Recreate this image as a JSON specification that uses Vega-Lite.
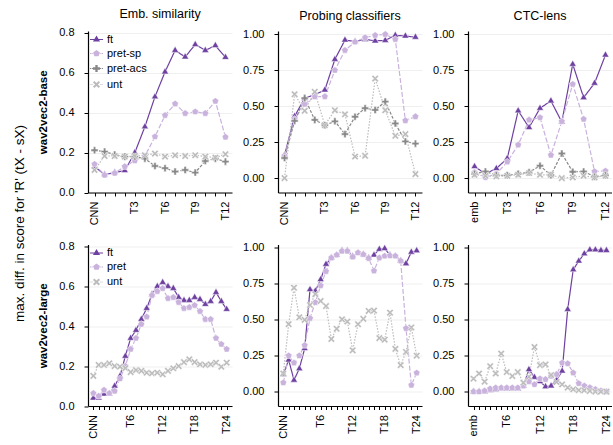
{
"$schema":"https://vega.github.io/schema/vega-lite/v6.json",
"padding":{"left":13,"top":8,"right":0,"bottom":0},
"title":{"text":"max. diff. in score for 'R' (tX - sX)","orient":"left","anchor":"middle","fontSize":13.5,"fontWeight":"normal","offset":11},
"datasets":{
"eb":[
{"l":"CNN","s":"ft","v":0.13},{"l":"emb","s":"ft","v":0.09},{"l":"T1","s":"ft","v":0.10},{"l":"T2","s":"ft","v":0.11},{"l":"T3","s":"ft","v":0.20},{"l":"T4","s":"ft","v":0.33},{"l":"T5","s":"ft","v":0.48},{"l":"T6","s":"ft","v":0.605},{"l":"T7","s":"ft","v":0.713},{"l":"T8","s":"ft","v":0.68},{"l":"T9","s":"ft","v":0.742},{"l":"T10","s":"ft","v":0.713},{"l":"T11","s":"ft","v":0.737},{"l":"T12","s":"ft","v":0.678},
{"l":"CNN","s":"pret-sp","v":0.142},{"l":"emb","s":"pret-sp","v":0.087},{"l":"T1","s":"pret-sp","v":0.097},{"l":"T2","s":"pret-sp","v":0.13},{"l":"T3","s":"pret-sp","v":0.16},{"l":"T4","s":"pret-sp","v":0.183},{"l":"T5","s":"pret-sp","v":0.28},{"l":"T6","s":"pret-sp","v":0.387},{"l":"T7","s":"pret-sp","v":0.445},{"l":"T8","s":"pret-sp","v":0.397},{"l":"T9","s":"pret-sp","v":0.405},{"l":"T10","s":"pret-sp","v":0.397},{"l":"T11","s":"pret-sp","v":0.458},{"l":"T12","s":"pret-sp","v":0.278},
{"l":"CNN","s":"pret-acs","v":0.212},{"l":"emb","s":"pret-acs","v":0.205},{"l":"T1","s":"pret-acs","v":0.19},{"l":"T2","s":"pret-acs","v":0.18},{"l":"T3","s":"pret-acs","v":0.18},{"l":"T4","s":"pret-acs","v":0.17},{"l":"T5","s":"pret-acs","v":0.133},{"l":"T6","s":"pret-acs","v":0.122},{"l":"T7","s":"pret-acs","v":0.105},{"l":"T8","s":"pret-acs","v":0.113},{"l":"T9","s":"pret-acs","v":0.1},{"l":"T10","s":"pret-acs","v":0.158},{"l":"T11","s":"pret-acs","v":0.17},{"l":"T12","s":"pret-acs","v":0.155},
{"l":"CNN","s":"unt","v":0.113},{"l":"emb","s":"unt","v":0.183},{"l":"T1","s":"unt","v":0.183},{"l":"T2","s":"unt","v":0.18},{"l":"T3","s":"unt","v":0.183},{"l":"T4","s":"unt","v":0.187},{"l":"T5","s":"unt","v":0.195},{"l":"T6","s":"unt","v":0.18},{"l":"T7","s":"unt","v":0.187},{"l":"T8","s":"unt","v":0.183},{"l":"T9","s":"unt","v":0.187},{"l":"T10","s":"unt","v":0.18},{"l":"T11","s":"unt","v":0.175},{"l":"T12","s":"unt","v":0.192}
],
"pb":[
{"l":"CNN","s":"ft","v":0.16},{"l":"emb","s":"ft","v":0.43},{"l":"T1","s":"ft","v":0.556},{"l":"T2","s":"ft","v":0.58},{"l":"T3","s":"ft","v":0.613},{"l":"T4","s":"ft","v":0.826},{"l":"T5","s":"ft","v":0.96},{"l":"T6","s":"ft","v":0.95},{"l":"T7","s":"ft","v":0.965},{"l":"T8","s":"ft","v":0.954},{"l":"T9","s":"ft","v":0.958},{"l":"T10","s":"ft","v":0.993},{"l":"T11","s":"ft","v":0.988},{"l":"T12","s":"ft","v":0.98},
{"l":"CNN","s":"pret-sp","v":0.155},{"l":"emb","s":"pret-sp","v":0.41},{"l":"T1","s":"pret-sp","v":0.514},{"l":"T2","s":"pret-sp","v":0.567},{"l":"T3","s":"pret-sp","v":0.567},{"l":"T4","s":"pret-sp","v":0.75},{"l":"T5","s":"pret-sp","v":0.889},{"l":"T6","s":"pret-sp","v":0.947},{"l":"T7","s":"pret-sp","v":0.977},{"l":"T8","s":"pret-sp","v":0.993},{"l":"T9","s":"pret-sp","v":1.0},{"l":"T10","s":"pret-sp","v":0.965},{"l":"T11","s":"pret-sp","v":0.4},{"l":"T12","s":"pret-sp","v":0.428},
{"l":"CNN","s":"pret-acs","v":0.14},{"l":"emb","s":"pret-acs","v":0.398},{"l":"T1","s":"pret-acs","v":0.556},{"l":"T2","s":"pret-acs","v":0.405},{"l":"T3","s":"pret-acs","v":0.368},{"l":"T4","s":"pret-acs","v":0.395},{"l":"T5","s":"pret-acs","v":0.306},{"l":"T6","s":"pret-acs","v":0.427},{"l":"T7","s":"pret-acs","v":0.486},{"l":"T8","s":"pret-acs","v":0.474},{"l":"T9","s":"pret-acs","v":0.532},{"l":"T10","s":"pret-acs","v":0.38},{"l":"T11","s":"pret-acs","v":0.255},{"l":"T12","s":"pret-acs","v":0.24},
{"l":"CNN","s":"unt","v":0.0},{"l":"emb","s":"unt","v":0.583},{"l":"T1","s":"unt","v":0.468},{"l":"T2","s":"unt","v":0.6},{"l":"T3","s":"unt","v":0.368},{"l":"T4","s":"unt","v":0.472},{"l":"T5","s":"unt","v":0.444},{"l":"T6","s":"unt","v":0.15},{"l":"T7","s":"unt","v":0.155},{"l":"T8","s":"unt","v":0.692},{"l":"T9","s":"unt","v":0.472},{"l":"T10","s":"unt","v":0.294},{"l":"T11","s":"unt","v":0.306},{"l":"T12","s":"unt","v":0.028}
],
"cb":[
{"l":"emb","s":"ft","v":0.081},{"l":"T1","s":"ft","v":0.03},{"l":"T2","s":"ft","v":0.067},{"l":"T3","s":"ft","v":0.137},{"l":"T4","s":"ft","v":0.468},{"l":"T5","s":"ft","v":0.352},{"l":"T6","s":"ft","v":0.486},{"l":"T7","s":"ft","v":0.537},{"l":"T8","s":"ft","v":0.39},{"l":"T9","s":"ft","v":0.792},{"l":"T10","s":"ft","v":0.56},{"l":"T11","s":"ft","v":0.66},{"l":"T12","s":"ft","v":0.856},
{"l":"emb","s":"pret-sp","v":0.04},{"l":"T1","s":"pret-sp","v":0.005},{"l":"T2","s":"pret-sp","v":0.03},{"l":"T3","s":"pret-sp","v":0.113},{"l":"T4","s":"pret-sp","v":0.231},{"l":"T5","s":"pret-sp","v":0.405},{"l":"T6","s":"pret-sp","v":0.421},{"l":"T7","s":"pret-sp","v":0.16},{"l":"T8","s":"pret-sp","v":0.394},{"l":"T9","s":"pret-sp","v":0.653},{"l":"T10","s":"pret-sp","v":0.41},{"l":"T11","s":"pret-sp","v":0.046},{"l":"T12","s":"pret-sp","v":0.05},
{"l":"emb","s":"pret-acs","v":0.03},{"l":"T1","s":"pret-acs","v":0.046},{"l":"T2","s":"pret-acs","v":0.02},{"l":"T3","s":"pret-acs","v":0.02},{"l":"T4","s":"pret-acs","v":0.03},{"l":"T5","s":"pret-acs","v":0.04},{"l":"T6","s":"pret-acs","v":0.086},{"l":"T7","s":"pret-acs","v":0.02},{"l":"T8","s":"pret-acs","v":0.171},{"l":"T9","s":"pret-acs","v":0.044},{"l":"T10","s":"pret-acs","v":0.046},{"l":"T11","s":"pret-acs","v":0.01},{"l":"T12","s":"pret-acs","v":0.02},
{"l":"emb","s":"unt","v":0.023},{"l":"T1","s":"unt","v":0.016},{"l":"T2","s":"unt","v":0.012},{"l":"T3","s":"unt","v":0.016},{"l":"T4","s":"unt","v":0.023},{"l":"T5","s":"unt","v":0.035},{"l":"T6","s":"unt","v":0.023},{"l":"T7","s":"unt","v":0.023},{"l":"T8","s":"unt","v":0.0},{"l":"T9","s":"unt","v":0.005},{"l":"T10","s":"unt","v":0.016},{"l":"T11","s":"unt","v":0.005},{"l":"T12","s":"unt","v":0.016}
],
"el":[
{"l":"CNN","s":"ft","v":0.04},{"l":"emb","s":"ft","v":0.04},{"l":"T1","s":"ft","v":0.06},{"l":"T2","s":"ft","v":0.06},{"l":"T3","s":"ft","v":0.10},{"l":"T4","s":"ft","v":0.15},{"l":"T5","s":"ft","v":0.25},{"l":"T6","s":"ft","v":0.34},{"l":"T7","s":"ft","v":0.38},{"l":"T8","s":"ft","v":0.435},{"l":"T9","s":"ft","v":0.49},{"l":"T10","s":"ft","v":0.56},{"l":"T11","s":"ft","v":0.60},{"l":"T12","s":"ft","v":0.62},{"l":"T13","s":"ft","v":0.60},{"l":"T14","s":"ft","v":0.59},{"l":"T15","s":"ft","v":0.545},{"l":"T16","s":"ft","v":0.53},{"l":"T17","s":"ft","v":0.53},{"l":"T18","s":"ft","v":0.545},{"l":"T19","s":"ft","v":0.535},{"l":"T20","s":"ft","v":0.51},{"l":"T21","s":"ft","v":0.525},{"l":"T22","s":"ft","v":0.57},{"l":"T23","s":"ft","v":0.525},{"l":"T24","s":"ft","v":0.485},
{"l":"CNN","s":"pret","v":0.064},{"l":"emb","s":"pret","v":0.05},{"l":"T1","s":"pret","v":0.08},{"l":"T2","s":"pret","v":0.064},{"l":"T3","s":"pret","v":0.075},{"l":"T4","s":"pret","v":0.137},{"l":"T5","s":"pret","v":0.2},{"l":"T6","s":"pret","v":0.285},{"l":"T7","s":"pret","v":0.34},{"l":"T8","s":"pret","v":0.41},{"l":"T9","s":"pret","v":0.447},{"l":"T10","s":"pret","v":0.555},{"l":"T11","s":"pret","v":0.575},{"l":"T12","s":"pret","v":0.59},{"l":"T13","s":"pret","v":0.54},{"l":"T14","s":"pret","v":0.545},{"l":"T15","s":"pret","v":0.52},{"l":"T16","s":"pret","v":0.49},{"l":"T17","s":"pret","v":0.495},{"l":"T18","s":"pret","v":0.505},{"l":"T19","s":"pret","v":0.475},{"l":"T20","s":"pret","v":0.435},{"l":"T21","s":"pret","v":0.435},{"l":"T22","s":"pret","v":0.34},{"l":"T23","s":"pret","v":0.31},{"l":"T24","s":"pret","v":0.285},
{"l":"CNN","s":"unt","v":0.151},{"l":"emb","s":"unt","v":0.206},{"l":"T1","s":"unt","v":0.206},{"l":"T2","s":"unt","v":0.214},{"l":"T3","s":"unt","v":0.2},{"l":"T4","s":"unt","v":0.197},{"l":"T5","s":"unt","v":0.19},{"l":"T6","s":"unt","v":0.17},{"l":"T7","s":"unt","v":0.18},{"l":"T8","s":"unt","v":0.176},{"l":"T9","s":"unt","v":0.167},{"l":"T10","s":"unt","v":0.164},{"l":"T11","s":"unt","v":0.167},{"l":"T12","s":"unt","v":0.159},{"l":"T13","s":"unt","v":0.176},{"l":"T14","s":"unt","v":0.189},{"l":"T15","s":"unt","v":0.2},{"l":"T16","s":"unt","v":0.22},{"l":"T17","s":"unt","v":0.234},{"l":"T18","s":"unt","v":0.22},{"l":"T19","s":"unt","v":0.209},{"l":"T20","s":"unt","v":0.206},{"l":"T21","s":"unt","v":0.209},{"l":"T22","s":"unt","v":0.217},{"l":"T23","s":"unt","v":0.197},{"l":"T24","s":"unt","v":0.217}
],
"pl":[
{"l":"CNN","s":"ft","v":0.12},{"l":"emb","s":"ft","v":0.22},{"l":"T1","s":"ft","v":0.08},{"l":"T2","s":"ft","v":0.16},{"l":"T3","s":"ft","v":0.30},{"l":"T4","s":"ft","v":0.71},{"l":"T5","s":"ft","v":0.70},{"l":"T6","s":"ft","v":0.78},{"l":"T7","s":"ft","v":0.886},{"l":"T8","s":"ft","v":0.93},{"l":"T9","s":"ft","v":0.95},{"l":"T10","s":"ft","v":0.98},{"l":"T11","s":"ft","v":0.98},{"l":"T12","s":"ft","v":0.94},{"l":"T13","s":"ft","v":0.966},{"l":"T14","s":"ft","v":0.954},{"l":"T15","s":"ft","v":0.93},{"l":"T16","s":"ft","v":0.95},{"l":"T17","s":"ft","v":0.99},{"l":"T18","s":"ft","v":0.995},{"l":"T19","s":"ft","v":0.95},{"l":"T20","s":"ft","v":0.943},{"l":"T21","s":"ft","v":0.91},{"l":"T22","s":"ft","v":0.89},{"l":"T23","s":"ft","v":0.97},{"l":"T24","s":"ft","v":0.98},
{"l":"CNN","s":"pret","v":0.062},{"l":"emb","s":"pret","v":0.25},{"l":"T1","s":"pret","v":0.2},{"l":"T2","s":"pret","v":0.25},{"l":"T3","s":"pret","v":0.322},{"l":"T4","s":"pret","v":0.51},{"l":"T5","s":"pret","v":0.62},{"l":"T6","s":"pret","v":0.737},{"l":"T7","s":"pret","v":0.836},{"l":"T8","s":"pret","v":0.93},{"l":"T9","s":"pret","v":0.95},{"l":"T10","s":"pret","v":0.977},{"l":"T11","s":"pret","v":0.977},{"l":"T12","s":"pret","v":0.936},{"l":"T13","s":"pret","v":0.966},{"l":"T14","s":"pret","v":0.954},{"l":"T15","s":"pret","v":0.927},{"l":"T16","s":"pret","v":0.84},{"l":"T17","s":"pret","v":0.93},{"l":"T18","s":"pret","v":0.943},{"l":"T19","s":"pret","v":0.945},{"l":"T20","s":"pret","v":0.943},{"l":"T21","s":"pret","v":0.909},{"l":"T22","s":"pret","v":0.44},{"l":"T23","s":"pret","v":0.045},{"l":"T24","s":"pret","v":0.13},
{"l":"CNN","s":"unt","v":0.126},{"l":"emb","s":"unt","v":0.469},{"l":"T1","s":"unt","v":0.722},{"l":"T2","s":"unt","v":0.517},{"l":"T3","s":"unt","v":0.499},{"l":"T4","s":"unt","v":0.602},{"l":"T5","s":"unt","v":0.678},{"l":"T6","s":"unt","v":0.63},{"l":"T7","s":"unt","v":0.595},{"l":"T8","s":"unt","v":0.366},{"l":"T9","s":"unt","v":0.437},{"l":"T10","s":"unt","v":0.503},{"l":"T11","s":"unt","v":0.487},{"l":"T12","s":"unt","v":0.287},{"l":"T13","s":"unt","v":0.469},{"l":"T14","s":"unt","v":0.506},{"l":"T15","s":"unt","v":0.561},{"l":"T16","s":"unt","v":0.563},{"l":"T17","s":"unt","v":0.372},{"l":"T18","s":"unt","v":0.361},{"l":"T19","s":"unt","v":0.549},{"l":"T20","s":"unt","v":0.297},{"l":"T21","s":"unt","v":0.184},{"l":"T22","s":"unt","v":0.276},{"l":"T23","s":"unt","v":0.446},{"l":"T24","s":"unt","v":0.25}
],
"cl":[
{"l":"emb","s":"ft","v":0.0},{"l":"T1","s":"ft","v":0.0},{"l":"T2","s":"ft","v":0.0},{"l":"T3","s":"ft","v":0.01},{"l":"T4","s":"ft","v":0.015},{"l":"T5","s":"ft","v":0.02},{"l":"T6","s":"ft","v":0.02},{"l":"T7","s":"ft","v":0.02},{"l":"T8","s":"ft","v":0.02},{"l":"T9","s":"ft","v":0.04},{"l":"T10","s":"ft","v":0.154},{"l":"T11","s":"ft","v":0.1},{"l":"T12","s":"ft","v":0.07},{"l":"T13","s":"ft","v":0.035},{"l":"T14","s":"ft","v":0.04},{"l":"T15","s":"ft","v":0.08},{"l":"T16","s":"ft","v":0.143},{"l":"T17","s":"ft","v":0.572},{"l":"T18","s":"ft","v":0.848},{"l":"T19","s":"ft","v":0.908},{"l":"T20","s":"ft","v":0.959},{"l":"T21","s":"ft","v":0.986},{"l":"T22","s":"ft","v":0.986},{"l":"T23","s":"ft","v":0.982},{"l":"T24","s":"ft","v":0.982},
{"l":"emb","s":"pret","v":0.0},{"l":"T1","s":"pret","v":0.0},{"l":"T2","s":"pret","v":0.005},{"l":"T3","s":"pret","v":0.02},{"l":"T4","s":"pret","v":0.027},{"l":"T5","s":"pret","v":0.027},{"l":"T6","s":"pret","v":0.027},{"l":"T7","s":"pret","v":0.027},{"l":"T8","s":"pret","v":0.027},{"l":"T9","s":"pret","v":0.04},{"l":"T10","s":"pret","v":0.07},{"l":"T11","s":"pret","v":0.05},{"l":"T12","s":"pret","v":0.09},{"l":"T13","s":"pret","v":0.085},{"l":"T14","s":"pret","v":0.108},{"l":"T15","s":"pret","v":0.12},{"l":"T16","s":"pret","v":0.2},{"l":"T17","s":"pret","v":0.195},{"l":"T18","s":"pret","v":0.131},{"l":"T19","s":"pret","v":0.057},{"l":"T20","s":"pret","v":0.04},{"l":"T21","s":"pret","v":0.028},{"l":"T22","s":"pret","v":0.016},{"l":"T23","s":"pret","v":0.005},{"l":"T24","s":"pret","v":0.0},
{"l":"emb","s":"unt","v":0.09},{"l":"T1","s":"unt","v":0.126},{"l":"T2","s":"unt","v":0.069},{"l":"T3","s":"unt","v":0.177},{"l":"T4","s":"unt","v":0.126},{"l":"T5","s":"unt","v":0.264},{"l":"T6","s":"unt","v":0.136},{"l":"T7","s":"unt","v":0.108},{"l":"T8","s":"unt","v":0.136},{"l":"T9","s":"unt","v":0.062},{"l":"T10","s":"unt","v":0.103},{"l":"T11","s":"unt","v":0.31},{"l":"T12","s":"unt","v":0.184},{"l":"T13","s":"unt","v":0.189},{"l":"T14","s":"unt","v":0.115},{"l":"T15","s":"unt","v":0.067},{"l":"T16","s":"unt","v":0.05},{"l":"T17","s":"unt","v":0.028},{"l":"T18","s":"unt","v":0.016},{"l":"T19","s":"unt","v":0.01},{"l":"T20","s":"unt","v":0.009},{"l":"T21","s":"unt","v":0.005},{"l":"T22","s":"unt","v":0.0},{"l":"T23","s":"unt","v":0.0},{"l":"T24","s":"unt","v":0.0}
]
},
"columns":3,
"spacing":{"row":51.5,"column":46},
"bounds":"flush",
"concat":[
{
"width":144,"height":161.5,"title":"Emb. similarity","data":{"name":"eb"},
"encoding":{
"x":{"field":"l","type":"ordinal","scale":{"type":"point","padding":0.65,"domain":["CNN","emb","T1","T2","T3","T4","T5","T6","T7","T8","T9","T10","T11","T12"]},"axis":{"labelExpr":"indexof(['CNN','T3','T6','T9','T12'], datum.value) >= 0 ? datum.value : ''"}},
"y":{"field":"v","type":"quantitative","scale":{"domain":[0,0.81],"nice":false,"zero":false},"axis":{"values":[0,0.2,0.4,0.6,0.8],"format":".1f","title":"wav2vec2-base"}},
"color":{"field":"s","type":"nominal","scale":{"domain":["ft","pret-sp","pret-acs","unt"],"range":["#6e40a0","#c9b2dc","#888888","#bcbcbc"]},"legend":null},
"order":{"value":null}
},
"resolve":{"scale":{"shape":"independent","fill":"independent"}},
"layer":[
{"mark":{"type":"line","strokeWidth":1.2},"encoding":{"strokeDash":{"field":"s","type":"nominal","scale":{"domain":["ft","pret-sp","pret-acs","unt"],"range":[[1,0],[5,2],[3,1.5],[1.5,1.5]]},"legend":null}}},
{"mark":{"type":"point","filled":true,"opacity":1,"size":50,"stroke":"white","strokeWidth":0.5},"encoding":{"shape":{"field":"s","type":"nominal","scale":{"domain":["ft","pret-sp","pret-acs","unt"],"range":["M0,-1.15L1,0.58L-1,0.58Z","M0,-1L0.951,-0.309L0.588,0.809L-0.588,0.809L-0.951,-0.309Z","M-0.33,-1L0.33,-1L0.33,-0.33L1,-0.33L1,0.33L0.33,0.33L0.33,1L-0.33,1L-0.33,0.33L-1,0.33L-1,-0.33L-0.33,-0.33Z","M-1,-0.6L-0.6,-1L0,-0.4L0.6,-1L1,-0.6L0.4,0L1,0.6L0.6,1L0,0.4L-0.6,1L-1,0.6L-0.4,0Z"]},"legend":null}}},
{"transform":[{"filter":"false"}],"mark":{"type":"point","filled":true,"opacity":1,"strokeWidth":0},"encoding":{
"shape":{"field":"s","type":"nominal","scale":{"domain":["ft","pret-sp","pret-acs","unt"],"range":[
"M-1.85,-0.17L1.85,-0.17L1.85,0.17L-1.85,0.17ZM0,-1.15L1,0.58L-1,0.58Z",
"M-1.85,-0.17L-1.4,-0.17L-1.4,0.17L-1.85,0.17ZM-1.2,-0.17L-0.95,-0.17L-0.95,0.17L-1.2,0.17ZM0.95,-0.17L1.2,-0.17L1.2,0.17L0.95,0.17ZM1.4,-0.17L1.85,-0.17L1.85,0.17L1.4,0.17ZM0,-1L0.951,-0.309L0.588,0.809L-0.588,0.809L-0.951,-0.309Z",
"M-1.85,-0.17L-1.5,-0.17L-1.5,0.17L-1.85,0.17ZM-1.3,-0.17L-1.0,-0.17L-1.0,0.17L-1.3,0.17ZM1.0,-0.17L1.3,-0.17L1.3,0.17L1.0,0.17ZM1.5,-0.17L1.85,-0.17L1.85,0.17L1.5,0.17ZM-0.33,-1L0.33,-1L0.33,-0.33L1,-0.33L1,0.33L0.33,0.33L0.33,1L-0.33,1L-0.33,0.33L-1,0.33L-1,-0.33L-0.33,-0.33Z",
"M-1.85,-0.17L-1.7,-0.17L-1.7,0.17L-1.85,0.17ZM-1.5,-0.17L-1.35,-0.17L-1.35,0.17L-1.5,0.17ZM-1.15,-0.17L-1.0,-0.17L-1.0,0.17L-1.15,0.17ZM1.0,-0.17L1.15,-0.17L1.15,0.17L1.0,0.17ZM1.35,-0.17L1.5,-0.17L1.5,0.17L1.35,0.17ZM1.7,-0.17L1.85,-0.17L1.85,0.17L1.7,0.17ZM-1,-0.6L-0.6,-1L0,-0.4L0.6,-1L1,-0.6L0.4,0L1,0.6L0.6,1L0,0.4L-0.6,1L-1,0.6L-0.4,0Z"]},"legend":{"title":null,"orient":"top-left"}},
"fill":{"field":"s","type":"nominal","scale":{"domain":["ft","pret-sp","pret-acs","unt"],"range":["#6e40a0","#c9b2dc","#888888","#bcbcbc"]},"legend":{"title":null,"orient":"top-left"}}
}}
]
},
{
"width":144,"height":161.5,"title":"Probing classifiers","data":{"name":"pb"},
"encoding":{
"x":{"field":"l","type":"ordinal","scale":{"type":"point","padding":0.65,"domain":["CNN","emb","T1","T2","T3","T4","T5","T6","T7","T8","T9","T10","T11","T12"]},"axis":{"labelExpr":"indexof(['CNN','T3','T6','T9','T12'], datum.value) >= 0 ? datum.value : ''"}},
"y":{"field":"v","type":"quantitative","scale":{"domain":[-0.1,1.023],"nice":false,"zero":false},"axis":{"values":[0,0.25,0.5,0.75,1],"format":".2f","title":null}},
"color":{"field":"s","type":"nominal","scale":{"domain":["ft","pret-sp","pret-acs","unt"],"range":["#6e40a0","#c9b2dc","#888888","#bcbcbc"]},"legend":null},
"order":{"value":null}
},
"layer":[
{"mark":{"type":"line","strokeWidth":1.2},"encoding":{"strokeDash":{"field":"s","type":"nominal","scale":{"domain":["ft","pret-sp","pret-acs","unt"],"range":[[1,0],[5,2],[3,1.5],[1.5,1.5]]},"legend":null}}},
{"mark":{"type":"point","filled":true,"opacity":1,"size":50,"stroke":"white","strokeWidth":0.5},"encoding":{"shape":{"field":"s","type":"nominal","scale":{"domain":["ft","pret-sp","pret-acs","unt"],"range":["M0,-1.15L1,0.58L-1,0.58Z","M0,-1L0.951,-0.309L0.588,0.809L-0.588,0.809L-0.951,-0.309Z","M-0.33,-1L0.33,-1L0.33,-0.33L1,-0.33L1,0.33L0.33,0.33L0.33,1L-0.33,1L-0.33,0.33L-1,0.33L-1,-0.33L-0.33,-0.33Z","M-1,-0.6L-0.6,-1L0,-0.4L0.6,-1L1,-0.6L0.4,0L1,0.6L0.6,1L0,0.4L-0.6,1L-1,0.6L-0.4,0Z"]},"legend":null}}}
]
},
{
"width":144,"height":161.5,"title":"CTC-lens","data":{"name":"cb"},
"encoding":{
"x":{"field":"l","type":"ordinal","scale":{"type":"point","padding":0.6,"domain":["emb","T1","T2","T3","T4","T5","T6","T7","T8","T9","T10","T11","T12"]},"axis":{"labelExpr":"indexof(['emb','T3','T6','T9','T12'], datum.value) >= 0 ? datum.value : ''"}},
"y":{"field":"v","type":"quantitative","scale":{"domain":[-0.1,1.023],"nice":false,"zero":false},"axis":{"values":[0,0.25,0.5,0.75,1],"format":".2f","title":null}},
"color":{"field":"s","type":"nominal","scale":{"domain":["ft","pret-sp","pret-acs","unt"],"range":["#6e40a0","#c9b2dc","#888888","#bcbcbc"]},"legend":null},
"order":{"value":null}
},
"layer":[
{"mark":{"type":"line","strokeWidth":1.2},"encoding":{"strokeDash":{"field":"s","type":"nominal","scale":{"domain":["ft","pret-sp","pret-acs","unt"],"range":[[1,0],[5,2],[3,1.5],[1.5,1.5]]},"legend":null}}},
{"mark":{"type":"point","filled":true,"opacity":1,"size":50,"stroke":"white","strokeWidth":0.5},"encoding":{"shape":{"field":"s","type":"nominal","scale":{"domain":["ft","pret-sp","pret-acs","unt"],"range":["M0,-1.15L1,0.58L-1,0.58Z","M0,-1L0.951,-0.309L0.588,0.809L-0.588,0.809L-0.951,-0.309Z","M-0.33,-1L0.33,-1L0.33,-0.33L1,-0.33L1,0.33L0.33,0.33L0.33,1L-0.33,1L-0.33,0.33L-1,0.33L-1,-0.33L-0.33,-0.33Z","M-1,-0.6L-0.6,-1L0,-0.4L0.6,-1L1,-0.6L0.4,0L1,0.6L0.6,1L0,0.4L-0.6,1L-1,0.6L-0.4,0Z"]},"legend":null}}}
]
},
{
"width":144,"height":161.5,"data":{"name":"el"},
"encoding":{
"x":{"field":"l","type":"ordinal","scale":{"type":"point","padding":1.25,"domain":["CNN","emb","T1","T2","T3","T4","T5","T6","T7","T8","T9","T10","T11","T12","T13","T14","T15","T16","T17","T18","T19","T20","T21","T22","T23","T24"]},"axis":{"labelExpr":"indexof(['CNN','T6','T12','T18','T24'], datum.value) >= 0 ? datum.value : ''"}},
"y":{"field":"v","type":"quantitative","scale":{"domain":[0,0.81],"nice":false,"zero":false},"axis":{"values":[0,0.2,0.4,0.6,0.8],"format":".1f","title":"wav2vec2-large"}},
"color":{"field":"s","type":"nominal","scale":{"domain":["ft","pret","unt"],"range":["#6e40a0","#c9b2dc","#bcbcbc"]},"legend":null},
"order":{"value":null}
},
"resolve":{"scale":{"shape":"independent","fill":"independent"}},
"layer":[
{"mark":{"type":"line","strokeWidth":1.2},"encoding":{"strokeDash":{"field":"s","type":"nominal","scale":{"domain":["ft","pret","unt"],"range":[[1,0],[5,2],[1.5,1.5]]},"legend":null}}},
{"mark":{"type":"point","filled":true,"opacity":1,"size":50,"stroke":"white","strokeWidth":0.5},"encoding":{"shape":{"field":"s","type":"nominal","scale":{"domain":["ft","pret","unt"],"range":["M0,-1.15L1,0.58L-1,0.58Z","M0,-1L0.951,-0.309L0.588,0.809L-0.588,0.809L-0.951,-0.309Z","M-1,-0.6L-0.6,-1L0,-0.4L0.6,-1L1,-0.6L0.4,0L1,0.6L0.6,1L0,0.4L-0.6,1L-1,0.6L-0.4,0Z"]},"legend":null}}},
{"transform":[{"filter":"false"}],"mark":{"type":"point","filled":true,"opacity":1,"strokeWidth":0},"encoding":{
"shape":{"field":"s","type":"nominal","scale":{"domain":["ft","pret","unt"],"range":[
"M-1.85,-0.17L1.85,-0.17L1.85,0.17L-1.85,0.17ZM0,-1.15L1,0.58L-1,0.58Z",
"M-1.85,-0.17L-1.4,-0.17L-1.4,0.17L-1.85,0.17ZM-1.2,-0.17L-0.95,-0.17L-0.95,0.17L-1.2,0.17ZM0.95,-0.17L1.2,-0.17L1.2,0.17L0.95,0.17ZM1.4,-0.17L1.85,-0.17L1.85,0.17L1.4,0.17ZM0,-1L0.951,-0.309L0.588,0.809L-0.588,0.809L-0.951,-0.309Z",
"M-1.85,-0.17L-1.7,-0.17L-1.7,0.17L-1.85,0.17ZM-1.5,-0.17L-1.35,-0.17L-1.35,0.17L-1.5,0.17ZM-1.15,-0.17L-1.0,-0.17L-1.0,0.17L-1.15,0.17ZM1.0,-0.17L1.15,-0.17L1.15,0.17L1.0,0.17ZM1.35,-0.17L1.5,-0.17L1.5,0.17L1.35,0.17ZM1.7,-0.17L1.85,-0.17L1.85,0.17L1.7,0.17ZM-1,-0.6L-0.6,-1L0,-0.4L0.6,-1L1,-0.6L0.4,0L1,0.6L0.6,1L0,0.4L-0.6,1L-1,0.6L-0.4,0Z"]},"legend":{"title":null,"orient":"top-left"}},
"fill":{"field":"s","type":"nominal","scale":{"domain":["ft","pret","unt"],"range":["#6e40a0","#c9b2dc","#bcbcbc"]},"legend":{"title":null,"orient":"top-left"}}
}}
]
},
{
"width":144,"height":161.5,"data":{"name":"pl"},
"encoding":{
"x":{"field":"l","type":"ordinal","scale":{"type":"point","padding":1.25,"domain":["CNN","emb","T1","T2","T3","T4","T5","T6","T7","T8","T9","T10","T11","T12","T13","T14","T15","T16","T17","T18","T19","T20","T21","T22","T23","T24"]},"axis":{"labelExpr":"indexof(['CNN','T6','T12','T18','T24'], datum.value) >= 0 ? datum.value : ''"}},
"y":{"field":"v","type":"quantitative","scale":{"domain":[-0.1,1.023],"nice":false,"zero":false},"axis":{"values":[0,0.25,0.5,0.75,1],"format":".2f","title":null}},
"color":{"field":"s","type":"nominal","scale":{"domain":["ft","pret","unt"],"range":["#6e40a0","#c9b2dc","#bcbcbc"]},"legend":null},
"order":{"value":null}
},
"layer":[
{"mark":{"type":"line","strokeWidth":1.2},"encoding":{"strokeDash":{"field":"s","type":"nominal","scale":{"domain":["ft","pret","unt"],"range":[[1,0],[5,2],[1.5,1.5]]},"legend":null}}},
{"mark":{"type":"point","filled":true,"opacity":1,"size":50,"stroke":"white","strokeWidth":0.5},"encoding":{"shape":{"field":"s","type":"nominal","scale":{"domain":["ft","pret","unt"],"range":["M0,-1.15L1,0.58L-1,0.58Z","M0,-1L0.951,-0.309L0.588,0.809L-0.588,0.809L-0.951,-0.309Z","M-1,-0.6L-0.6,-1L0,-0.4L0.6,-1L1,-0.6L0.4,0L1,0.6L0.6,1L0,0.4L-0.6,1L-1,0.6L-0.4,0Z"]},"legend":null}}}
]
},
{
"width":144,"height":161.5,"data":{"name":"cl"},
"encoding":{
"x":{"field":"l","type":"ordinal","scale":{"type":"point","padding":1.2,"domain":["emb","T1","T2","T3","T4","T5","T6","T7","T8","T9","T10","T11","T12","T13","T14","T15","T16","T17","T18","T19","T20","T21","T22","T23","T24"]},"axis":{"labelExpr":"indexof(['emb','T6','T12','T18','T24'], datum.value) >= 0 ? datum.value : ''"}},
"y":{"field":"v","type":"quantitative","scale":{"domain":[-0.1,1.023],"nice":false,"zero":false},"axis":{"values":[0,0.25,0.5,0.75,1],"format":".2f","title":null}},
"color":{"field":"s","type":"nominal","scale":{"domain":["ft","pret","unt"],"range":["#6e40a0","#c9b2dc","#bcbcbc"]},"legend":null},
"order":{"value":null}
},
"layer":[
{"mark":{"type":"line","strokeWidth":1.2},"encoding":{"strokeDash":{"field":"s","type":"nominal","scale":{"domain":["ft","pret","unt"],"range":[[1,0],[5,2],[1.5,1.5]]},"legend":null}}},
{"mark":{"type":"point","filled":true,"opacity":1,"size":50,"stroke":"white","strokeWidth":0.5},"encoding":{"shape":{"field":"s","type":"nominal","scale":{"domain":["ft","pret","unt"],"range":["M0,-1.15L1,0.58L-1,0.58Z","M0,-1L0.951,-0.309L0.588,0.809L-0.588,0.809L-0.951,-0.309Z","M-1,-0.6L-0.6,-1L0,-0.4L0.6,-1L1,-0.6L0.4,0L1,0.6L0.6,1L0,0.4L-0.6,1L-1,0.6L-0.4,0Z"]},"legend":null}}}
]
}
],
"resolve":{"scale":{"x":"independent","y":"independent","color":"independent","shape":"independent","strokeDash":"independent","fill":"independent"}},
"config":{
"font":"Liberation Sans",
"view":{"stroke":null},
"axis":{"domainColor":"#000","domainWidth":1.2,"tickColor":"#000","tickWidth":1,"labelColor":"#000","labelFontSize":11,"labelFont":"Liberation Sans","gridColor":"#ebebeb","gridWidth":0.8,"titleColor":"#000","titleFont":"Liberation Sans"},
"axisX":{"labelAngle":270,"tickSize":3.5,"labelPadding":5,"title":null,"labelOverlap":false},
"axisY":{"tickSize":4,"labelPadding":10,"titleFontWeight":"bold","titleFontSize":11.5,"titlePadding":10},
"title":{"fontSize":12.5,"fontWeight":"normal","offset":6,"color":"#000","font":"Liberation Sans"},
"legend":{"padding":0,"offset":3,"labelFontSize":11,"labelColor":"#000","labelFont":"Liberation Sans","rowPadding":1,"symbolSize":50,"symbolOffset":0,"labelOffset":5}
}
}
